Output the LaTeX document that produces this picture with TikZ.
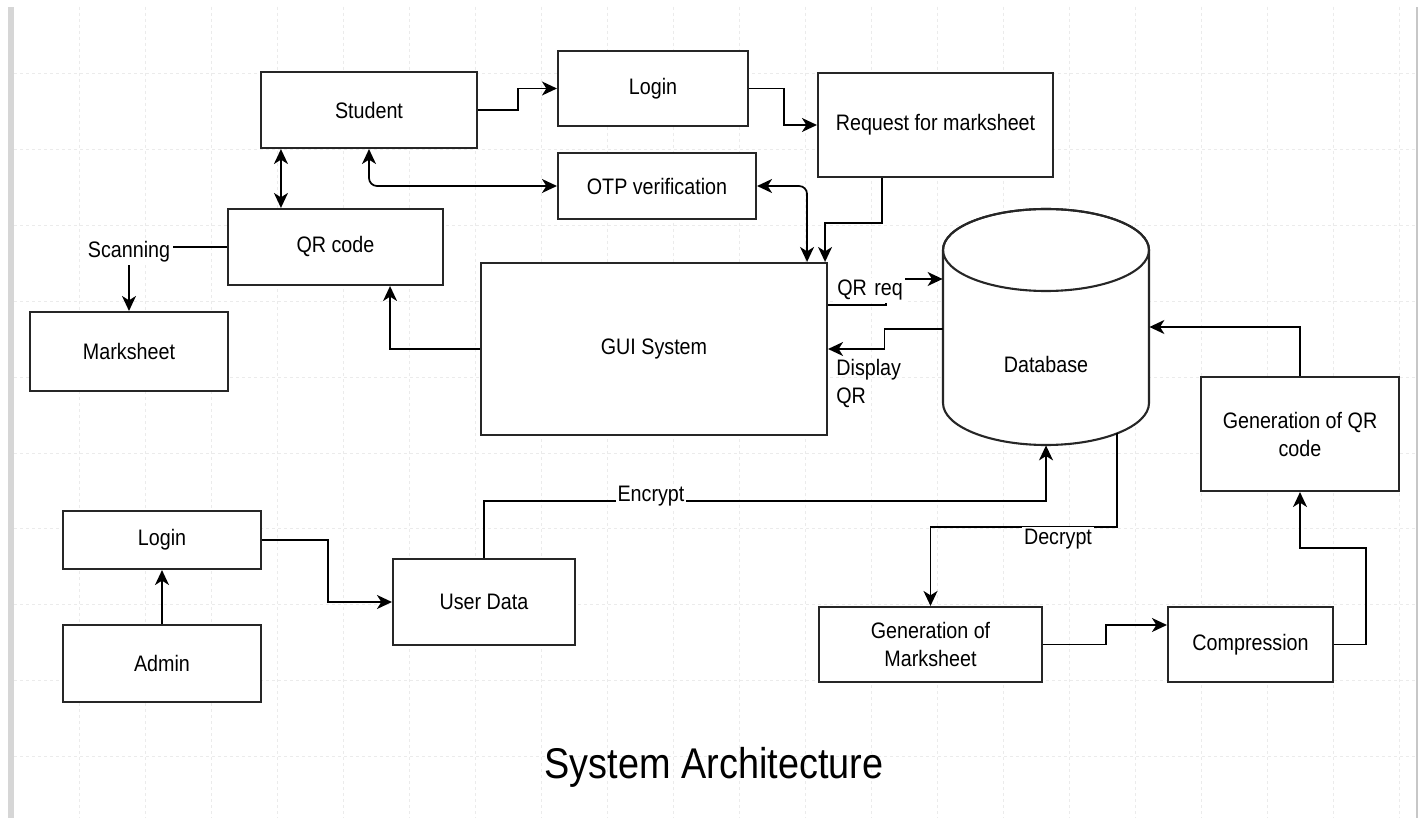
\documentclass[tikz,border=0pt]{standalone}
\usepackage{fontspec}
\setmainfont{Liberation Sans}[FakeStretch=0.88]
\usetikzlibrary{arrows.meta,calc}

\tikzset{
  box/.style={draw=black!85, line width=1.05pt, fill=white, inner sep=2pt,
    align=center, font=\fontsize{11.2}{14}\selectfont},
  lbl/.style={inner sep=1pt, font=\fontsize{11.2}{14}\selectfont},
  link/.style={draw=black, line width=0.85pt},
  >={Stealth[length=7.5pt,width=7pt,inset=2.2pt]},
  gridline/.style={draw=black!8, line width=0.5pt, dash pattern=on 1.5pt off 1.5pt}
}

\begin{document}
\begin{tikzpicture}[x=0.5pt, y=-0.5pt]
\useasboundingbox (0,0) rectangle (1424,818);
\fill[white] (0,0) rectangle (1424,818);

% background grid of the drawing canvas
\foreach \k in {1,...,21} \draw[gridline] ({13+66*\k},7) -- ({13+66*\k},818);
\foreach \k in {0,...,9} \draw[gridline] (14,{74+75.8*\k}) -- (1416,{74+75.8*\k});
\fill[black!16] (8,7) rectangle (14,818);
\fill[black!22] (1416,7) rectangle (1418,818);

% student side
\node[box, minimum width=108pt, minimum height=38pt] (student) at (369,110) {Student};
\node[box, minimum width=95pt, minimum height=37.5pt] (login1) at (653,88.5) {Login};
\node[box, minimum width=117.5pt, minimum height=52pt] (request) at (935.5,125) {Request for marksheet};
\node[box, minimum width=99pt, minimum height=33pt] (otp) at (657,186) {OTP verification};
\node[box, minimum width=107.5pt, minimum height=38pt] (qr) at (335.5,247) {QR code};
\node[box, minimum width=99pt, minimum height=39.5pt] (marksheet) at (129,351.5) {Marksheet};
\node[box, minimum width=173pt, minimum height=86pt] (gui) at (654,349) {GUI System};

% database cylinder
\node[minimum width=103pt, minimum height=118pt, inner sep=0pt] (db) at (1046,327) {};
\filldraw[fill=white, draw=black!85, line width=1.05pt]
  (943,250) -- (943,403) arc[start angle=180, end angle=360, x radius=51.5pt, y radius=21pt]
  -- (1149,250) arc[start angle=0, end angle=180, x radius=51.5pt, y radius=20.5pt] -- cycle;
\draw[draw=black!85, line width=1.05pt] (1046,250) ellipse[x radius=51.5pt, y radius=20.5pt];
\node[lbl] (dblabel) at (1046,364) {Database};
\coordinate (dbd) at (1117,433);

% marksheet generation side
\node[box, minimum width=99pt, minimum height=57pt] (genqr) at (1300,434) {Generation of QR\\code};
\node[box, minimum width=82.5pt, minimum height=37.5pt] (comp) at (1250.5,644.5) {Compression};
\node[box, minimum width=111.5pt, minimum height=37.5pt] (genmark) at (930.5,644.5) {Generation of\\Marksheet};

% admin side
\node[box, minimum width=91pt, minimum height=43pt] (userdata) at (484,602) {User Data};
\node[box, minimum width=99pt, minimum height=29pt] (login2) at (162,540) {Login};
\node[box, minimum width=99pt, minimum height=38.5pt] (admin) at (162,663.5) {Admin};

% connectors
\draw[link,->] (student.east) -- ++(40,0) |- (login1.west);
\draw[link,->] (login1.east) -- ++(35,0) |- (request.west);
\draw[link,->] ($(request.south)+(-53.5,0)$) -- ++(0,45) -| ($(gui.north east)+(-3,0)$);
\draw[link,<->,rounded corners=4pt] (otp.east) -| ($(gui.north east)+(-21,0)$);
\draw[link,<->,rounded corners=4pt] (student.south) |- (otp.west);
\coordinate (sq) at ($(student.south west)+(21,0)$);
\draw[link,<->] (sq) -- (sq |- qr.north);
\draw[link,->] (gui.west) -| ($(qr.south east)+(-54,0)$);

\node[lbl, fill=white, anchor=base] (scan) at (129,258) {Scanning};
\draw[link] (qr.west) -- (qr.west -| scan.east);
\draw[link,->] (scan.south) -- (marksheet.north);

\draw[link,->] ($(gui.north east)+(0,43)$) -- ++(58,0) |- ($(db.west)+(0,-48)$);
\node[lbl, fill=white, anchor=base west] (qrreq) at (835,296) {QR\,\,req};
\draw[link,->] ($(db.west)+(0,2)$) -- ++(-58,0) |- (gui.east);
\node[lbl, align=left, anchor=north west] (disp) at (834,357) {Display\\QR};

\draw[link,->] (genqr.north) |- (db.east);
\draw[link,->] (comp.east) -- ++(32,0) -- ++(0,-96.5) -| (genqr.south);
\draw[link,->] (genmark.east) -- ++(63,0) |- ($(comp.west)+(0,-19.5)$);

\draw[link,->] (dbd) -- ++(0,94) -| (genmark.north);
\node[lbl, fill=white, anchor=base] (decrypt) at (1058,544) {Decrypt};

\draw[link,->] (userdata.north) -- ++(0,-57) -| (db.south);
\node[lbl, fill=white, anchor=base] (encrypt) at (651,501) {Encrypt};

\draw[link,->] (login2.east) -- ++(66,0) |- (userdata.west);
\draw[link,->] (admin.north) -- (login2.south);

\node[font=\fontsize{21.5}{26}\selectfont, anchor=base] (title) at (714,778) {System Architecture};
\end{tikzpicture}
\end{document}
